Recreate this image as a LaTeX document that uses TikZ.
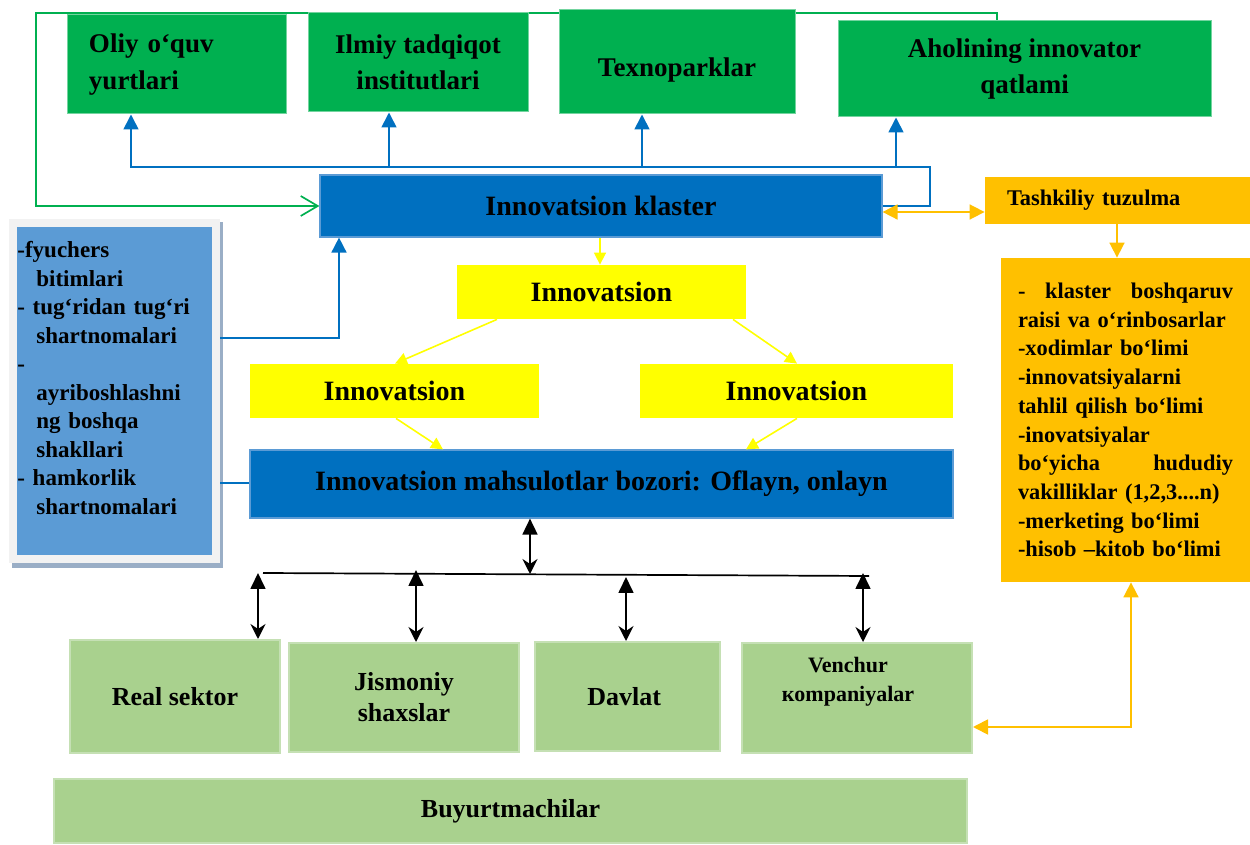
\documentclass[tikz,border=0pt]{standalone}
\usepackage{fontspec}
\setmainfont{Liberation Serif}
\usepackage{tikz}
\usetikzlibrary{arrows.meta}
\usetikzlibrary{backgrounds}
\usetikzlibrary{calc}

\definecolor{topgreen}{HTML}{00B050}
\definecolor{clusterblue}{HTML}{0070C0}
\definecolor{lightblue}{HTML}{5B9BD5}
\definecolor{boxyellow}{HTML}{FFFF00}
\definecolor{boxorange}{HTML}{FFC000}
\definecolor{palegreen}{HTML}{A9D18E}
\definecolor{paleedge}{HTML}{C5E0B4}
\definecolor{framegray}{HTML}{F2F2F2}
\definecolor{shadowgray}{HTML}{9AAEC6}

\tikzset{basic box/.style={rectangle,inner sep=0pt,align=center}}
\tikzset{green box/.style={basic box,fill=topgreen,draw=topgreen!55,line width=0.5pt,
                           font=\bfseries\fontsize{13.5}{18.3}\selectfont}}
\tikzset{blue box/.style={basic box,fill=clusterblue,draw=lightblue,line width=0.6pt,
                          font=\bfseries\fontsize{14}{17}\selectfont}}
\tikzset{yellow box/.style={basic box,fill=boxyellow,minimum height=27pt,
                            font=\bfseries\fontsize{14}{17}\selectfont}}
\tikzset{orange box/.style={basic box,fill=boxorange,
                            font=\bfseries\fontsize{11.2}{14.35}\selectfont}}
\tikzset{pale box/.style={basic box,fill=palegreen,draw=paleedge,line width=1pt,
                          font=\bfseries\fontsize{13}{15.5}\selectfont}}
\tikzset{edge/.style={draw,line width=0.85pt}}

\begin{document}
\begin{tikzpicture}
      [
      x=0.5pt,y=-0.5pt,
      blue arrow/.style={edge,color=clusterblue,-{Triangle[width=7.5pt,length=7.5pt]}},
      yellow arrow/.style={edge,line width=0.8pt,color=boxyellow,-{Triangle[width=6pt,length=6pt]}},
      orange arrow/.style={edge,color=boxorange,-{Triangle[width=7.5pt,length=7.5pt]}},
      orange both/.style={edge,color=boxorange,
        {Triangle[width=7.5pt,length=7.5pt]}-{Triangle[width=7.5pt,length=7.5pt]}},
      black arrow/.style={edge,color=black,
        {Triangle[width=7.5pt,length=8pt]}-{Stealth[width=7.5pt,length=7.5pt,inset=2.5pt]}},
      deal box/.style={basic box,fill=lightblue,draw=framegray,line width=4pt,outer sep=2pt},
      deal text/.style={inner sep=0pt,align=left,text width=100pt,
        font=\bfseries\fontsize{11.5}{14.25}\selectfont},
      ]

      \useasboundingbox (0,0) rectangle (1250,845);

      % top row
      \node [green box,align=left,text width=87.5pt,inner xsep=11pt,minimum height=49.5pt]
        (oliy) at (176.5,64.5) {Oliy o‘quv\\yurtlari};
      \node [green box,minimum width=110pt,minimum height=49.5pt]
        (ilmiy) at (418,62.5) {Ilmiy tadqiqot\\institutlari};
      \node [green box,minimum width=118pt,minimum height=52pt,text height=17.8pt]
        (texno) at (677,62) {Texnoparklar};
      \node [green box,minimum width=186.5pt,minimum height=48pt]
        (aholi) at (1024.5,69) {Aholining innovator\\qatlami};

      % cluster and innovations
      \node [blue box,minimum width=281pt,minimum height=31pt] (klaster) at (601,206) {Innovatsion klaster};
      \node [yellow box,minimum width=144.5pt] (inn0) at (601.5,292) {Innovatsion};
      \node [yellow box,minimum width=144.5pt] (inn1) at (394.5,391) {Innovatsion};
      \node [yellow box,minimum width=156.5pt] (inn2) at (796.5,391) {Innovatsion};
      \node [blue box,minimum width=351.5pt,minimum height=34pt]
        (bozor) at (601.5,484) {Innovatsion mahsulotlar bozori: Oflayn, onlayn};

      % deals list
      \fill [shadowgray] (12,222) rectangle (223,568);
      \node [deal box,minimum width=101.5pt,minimum height=168pt] (deals) at (114.5,391) {};
      \node [deal text,anchor=north west] (dealtext) at ([xshift=4pt,yshift=-11pt]deals.north west)
        {-fyuchers\\ \hspace*{9.5pt}bitimlari\\- tug‘ridan tug‘ri\\ \hspace*{9.5pt}shartnomalari\\-\\
         \hspace*{9.5pt}ayriboshlashni\\ \hspace*{9.5pt}ng boshqa\\ \hspace*{9.5pt}shakllari\\
         - hamkorlik\\ \hspace*{9.5pt}shartnomalari};

      % structure
      \node [orange box,align=left,text width=110.5pt,inner xsep=11pt,minimum height=23.5pt]
        (tashkil) at (1117.5,200.5) {Tashkiliy tuzulma};
      \node [orange box,align=left,text width=107.5pt,inner xsep=8.5pt,minimum height=162pt]
        (tuzilma) at (1125.5,420)
        {-\hfill klaster\hfill boshqaruv\\raisi va o‘rinbosarlar\\-xodimlar bo‘limi\\
         -innovatsiyalarni\\tahlil qilish bo‘limi\\-inovatsiyalar\\bo‘yicha\hfill hududiy\\
         vakilliklar (1,2,3....n)\\-merketing bo‘limi\\-hisob –kitob bo‘limi};

      % customers
      \foreach \n/\x/\y/\w/\h/\t in
      {
      real/175/696.5/105/56.5/{Real sektor},
      jism/404/697.5/115/54.5/{Jismoniy\\shaxslar},
      davlat/627.5/696.5/92.5/54.5/{Davlat}
      }
      {
      \node [pale box,minimum width=\w pt,minimum height=\h pt] (\n) at (\x,\y) {\t};
      }
      \node [pale box,minimum width=115pt,minimum height=55pt,
        label={[align=center,anchor=center,xshift=-4.5pt,yshift=8pt,
        font=\bfseries\fontsize{11}{14.5}\selectfont]center:Venchur\\кompaniyalar}]
        (venchur) at (857,698) {};
      \node [pale box,minimum width=456.5pt,minimum height=32pt]
        (buyurt) at (510.5,811) {Buyurtmachilar};

      % feedback line
      \begin{scope}[on background layer]
      \draw [edge,color=topgreen,-{Straight Barb[width=10pt,length=8.5pt]}]
        (aholi.north -| 997,0) -- (997,13) -- (36,13) |- (klaster.west);
      \end{scope}

      % cluster to institutions
      \draw [edge,color=clusterblue] (klaster.east) -| (930,167) -- (130,167);
      \foreach \b/\x in {oliy/131,ilmiy/389,texno/642,aholi/896}
      {
      \draw [blue arrow] (\x,167) -- (\b.south -| \x,0);
      }

      % deals to cluster and market
      \draw [blue arrow] (deals.east |- 0,338) -| (klaster.south -| 339,0);
      \draw [edge,color=clusterblue] (deals.east |- 0,483) -- (bozor.west |- 0,483);

      % innovations
      \draw [yellow arrow] (klaster.south -| 600,0) -- (inn0.north -| 600,0);
      \draw [yellow arrow] (inn0.south -| 497,0) -- (inn1.north -| 395,0);
      \draw [yellow arrow] (inn0.south -| 733,0) -- (inn2.north -| 797,0);
      \draw [yellow arrow] (inn1.south -| 396,0) -- (bozor.north -| 443,0);
      \draw [yellow arrow] (inn2.south -| 797,0) -- (bozor.north -| 746,0);

      % market to customers
      \coordinate (bus west) at (263,573);
      \coordinate (bus east) at (869,576);
      \draw [edge,color=black] (bus west) -- (bus east);
      \draw [black arrow] (bozor.south -| 530,0) -- (530,574);
      \foreach \b/\x/\y in {real/258/573,jism/416/570,davlat/626/577,venchur/863/573}
      {
      \draw [black arrow] (\x,\y) -- (\b.north -| \x,0);
      }

      % structure links
      \draw [orange both] ([yshift=-3pt]klaster.east) -- ([yshift=-3pt]klaster.east -| tashkil.west);
      \draw [orange arrow] (tashkil.south -| 1117,0) -- (tuzilma.north -| 1117,0);
      \draw [orange both] (tuzilma.south -| 1131,0) |- (venchur.east |- 0,727);

    \end{tikzpicture}
\end{document}
